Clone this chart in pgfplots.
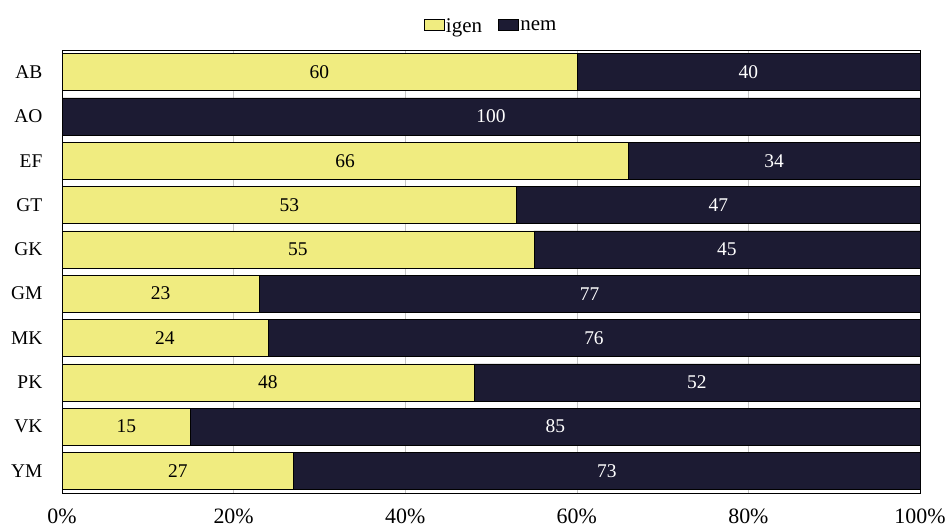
\documentclass[border=0pt]{standalone}
\usepackage{fontspec}
\setmainfont{Liberation Serif}
\usepackage{pgfplots}
\usepackage{pgfplotstable}
\pgfplotsset{compat=1.18}
\definecolor{igenyellow}{HTML}{F0EC80}
\definecolor{nemnavy}{HTML}{1C1B33}

% igen / nem shares per group (percent)
\pgfplotstableread{
row name igen nem
0 AB 60 40
1 AO 0 100
2 EF 66 34
3 GT 53 47
4 GK 55 45
5 GM 23 77
6 MK 24 76
7 PK 48 52
8 VK 15 85
9 YM 27 73
}\data

% label positions (centre of each segment)
\pgfplotstableread{
x y lab
30 0 60
33 2 66
26.5 3 53
27.5 4 55
11.5 5 23
12 6 24
24 7 48
7.5 8 15
13.5 9 27
}\igenlab
\pgfplotstableread{
x y lab
80 0 40
50 1 100
83 2 34
76.5 3 47
77.5 4 45
61.5 5 77
62 6 76
74 7 52
57.5 8 85
63.5 9 73
}\nemlab

\begin{document}
\fontsize{19.5}{23}\selectfont
\begin{tikzpicture}
% fixed page: axis box is 858x443 with its lower left corner at the origin
\path[use as bounding box] (-62bp,-36bp) rectangle (886bp,493bp);
\pgfplotsset{
    common/.style={
        scale only axis,
        width=858bp, height=443bp,
        xmin=0, xmax=100,
        ymin=-0.5, ymax=9.5,
        y dir=reverse,
    },
}
\begin{axis}[
    common,
    xbar stacked,
    bar width=37bp,
    ytick={0,...,9},
    yticklabels={AB,AO,EF,GT,GK,GM,MK,PK,VK,YM},
    xtick={0,20,40,60,80,100},
    xticklabel={\pgfmathprintnumber{\tick}\%},
    /pgf/number format/assume math mode=true,
    major tick length=0pt,
    xticklabel style={yshift=-9bp, font=\fontsize{22}{25}\selectfont},
    yticklabel style={xshift=-13bp, font=\fontsize{19.5}{23}\selectfont},
    xmajorgrids=true,
    grid style={gray!45, line width=0.4pt},
    axis line style={black, line width=0.8pt},
    legend columns=-1,
    legend style={draw=none, fill=none, at={(0.5,1)}, anchor=south,
        yshift=11bp, font=\fontsize{21}{24}\selectfont,
        /tikz/every even column/.append style={column sep=14bp},
        inner sep=1bp},
    legend image code/.code={\draw[#1] (0bp,-3bp) rectangle (20bp,8bp);},
]
\addplot[fill=igenyellow, draw=black, line width=0.5pt] table[x=igen, y=row]{\data};
\addlegendentry{igen}
\addplot[fill=nemnavy, draw=black, line width=0.5pt] table[x=nem, y=row]{\data};
\addlegendentry{nem}
\end{axis}

\begin{axis}[common, hide axis]
\addplot[draw=none, mark=none, nodes near coords, point meta=explicit symbolic,
    every node near coord/.append style={anchor=center, text=black,
        font=\fontsize{19.5}{23}\selectfont}]
    table[x=x, y=y, meta=lab]{\igenlab};
\addplot[draw=none, mark=none, nodes near coords, point meta=explicit symbolic,
    every node near coord/.append style={anchor=center, text=white,
        font=\fontsize{19.5}{23}\selectfont}]
    table[x=x, y=y, meta=lab]{\nemlab};
\end{axis}
\end{tikzpicture}
\end{document}
